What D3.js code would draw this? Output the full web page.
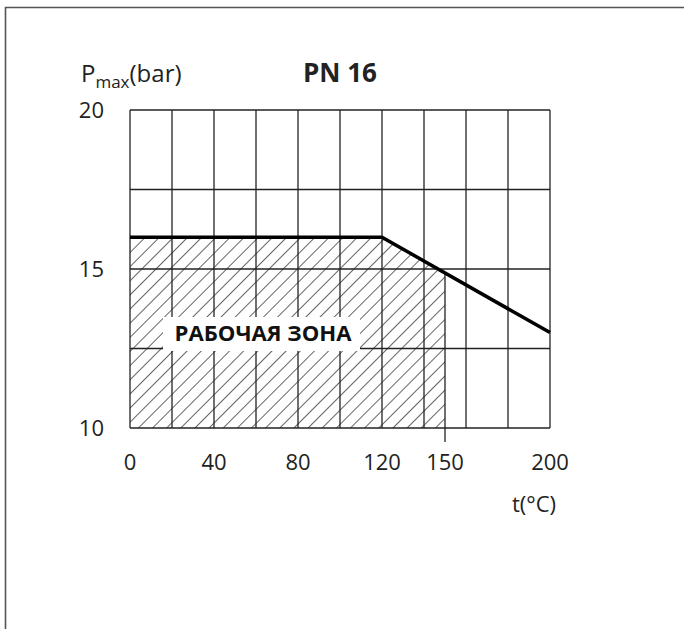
<!DOCTYPE html>
<html>
<head>
<meta charset="utf-8">
<script src="https://d3js.org/d3.v7.min.js"></script>
<style>
  html, body { margin: 0; padding: 0; background: #fff; }
  svg { display: block; font-family: "Open Sans", "Noto Sans", sans-serif; }
</style>
</head>
<body>
<script>
// chart data
var lineTemps = [0, 120, 200];
var linePress = [16, 16, 13];
var zoneTemps = [0, 120, 150];
var zonePress = [16, 16, 14.9];
var xTicks = [0, 40, 80, 120, 150, 200];
var yTicks = [10, 15, 20];
var xGrid = [0, 20, 40, 60, 80, 100, 120, 140, 160, 180, 200];
var yGrid = [10, 12.5, 15, 17.5, 20];

var W = 684, H = 629;

var svg = d3.select("body").append("svg")
    .attr("width", W)
    .attr("height", H);

// outer frame (only top and left visible)
svg.append("path")
    .attr("d", "M5.5,629V7.5H684")
    .attr("fill", "none")
    .attr("stroke", "#555")
    .attr("stroke-width", 1.6);

var x = d3.scaleLinear().domain([0, 200]).range([130, 550]);
var y = d3.scaleLinear().domain([10, 20]).range([428, 110]);

// hatch pattern
var defs = svg.append("defs");
defs.append("pattern")
    .attr("id", "hatch")
    .attr("patternUnits", "userSpaceOnUse")
    .attr("width", 10)
    .attr("height", 10)
    .attr("patternTransform", "rotate(45)")
  .append("line")
    .attr("x1", 0).attr("y1", 0)
    .attr("x2", 0).attr("y2", 10)
    .attr("stroke", "#222")
    .attr("stroke-width", 1.4);

// working zone
var zone = zoneTemps.map(function(t, i) { return [t, zonePress[i]]; });
var zonePoly = [[zoneTemps[0], 10]].concat(zone).concat([[zoneTemps[zoneTemps.length - 1], 10]]);
svg.append("path")
    .attr("d", d3.line().x(function(d) { return x(d[0]); }).y(function(d) { return y(d[1]); })(zonePoly) + "Z")
    .attr("fill", "url(#hatch)");

// grid
var g = svg.append("g").attr("stroke", "#222").attr("stroke-width", 1.3);
g.selectAll("line.v").data(xGrid).enter().append("line")
    .attr("x1", function(d) { return x(d); })
    .attr("x2", function(d) { return x(d); })
    .attr("y1", y(20)).attr("y2", y(10));
g.selectAll("line.h").data(yGrid).enter().append("line")
    .attr("y1", function(d) { return y(d); })
    .attr("y2", function(d) { return y(d); })
    .attr("x1", x(0)).attr("x2", x(200));

// right edge of working zone + tick
svg.append("line")
    .attr("x1", x(150)).attr("x2", x(150))
    .attr("y1", y(zonePress[2])).attr("y2", y(10) + 14)
    .attr("stroke", "#222").attr("stroke-width", 1.3);

// label with white box
svg.append("rect")
    .attr("x", 163).attr("y", 317)
    .attr("width", 197).attr("height", 34)
    .attr("fill", "#fff");
svg.append("text")
    .attr("x", 263).attr("y", 341)
    .attr("text-anchor", "middle")
    .attr("font-size", 21)
    .attr("font-weight", "bold")
    .attr("fill", "#111")
    .attr("textLength", 177)
    .attr("lengthAdjust", "spacingAndGlyphs")
    .text("РАБОЧАЯ ЗОНА");

// pressure limit line
var pts = lineTemps.map(function(t, i) { return [t, linePress[i]]; });
svg.append("path")
    .attr("d", d3.line().x(function(d) { return x(d[0]); }).y(function(d) { return y(d[1]); })(pts))
    .attr("fill", "none")
    .attr("stroke", "#000")
    .attr("stroke-width", 3.5);

// tick labels
svg.selectAll("text.xt").data(xTicks).enter().append("text")
    .attr("x", function(d) { return x(d); })
    .attr("y", 470)
    .attr("text-anchor", "middle")
    .attr("font-size", 22)
    .attr("fill", "#222")
    .text(function(d) { return d; });
svg.selectAll("text.yt").data(yTicks).enter().append("text")
    .attr("x", 104)
    .attr("y", function(d) { return y(d) + 8; })
    .attr("text-anchor", "end")
    .attr("font-size", 22)
    .attr("fill", "#222")
    .text(function(d) { return d; });

// axis titles
var yl = svg.append("text")
    .attr("x", 81).attr("y", 82)
    .attr("font-size", 24)
    .attr("fill", "#222");
yl.append("tspan").text("P");
yl.append("tspan").attr("font-size", 17).attr("dy", 6).text("max");
yl.append("tspan").attr("dy", -6).text("(bar)");

svg.append("text")
    .attr("x", 534).attr("y", 512)
    .attr("text-anchor", "middle")
    .attr("font-size", 22)
    .attr("fill", "#222")
    .text("t(°C)");

// title
svg.append("text")
    .attr("x", 340).attr("y", 82)
    .attr("text-anchor", "middle")
    .attr("font-size", 26)
    .attr("font-weight", "bold")
    .attr("fill", "#222")
    .text("PN 16");
</script>
</body>
</html>
